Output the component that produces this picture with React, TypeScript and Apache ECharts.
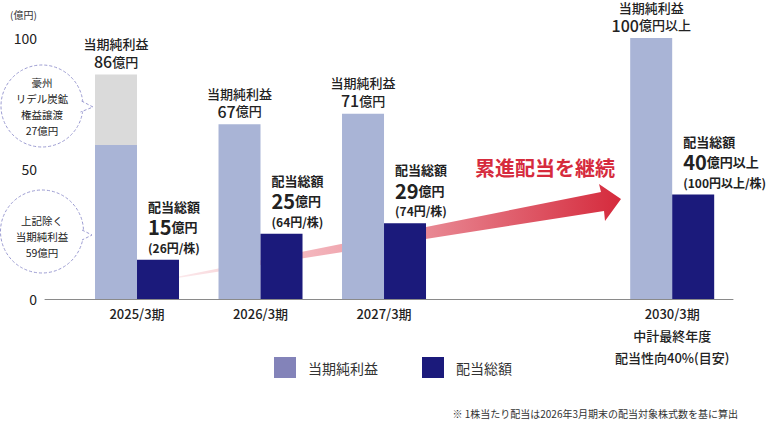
import React, { useEffect, useRef } from 'react';
import * as echarts from 'echarts';

// ---- data ----
const periods = ['2025/3期', '2026/3期', '2027/3期', '2030/3期\n中計最終年度\n配当性向40%(目安)'];
const periodPos = [0, 3, 6, 13]; // position of each period on the x scale (thirds of a year)
const netIncome = [59, 67, 71, 100]; // 当期純利益 (excluding divestiture gain)
const divestGain = [27, 0, 0, 0]; // 豪州リデル炭鉱権益譲渡
const netUnit = ['億円', '億円', '億円', '億円以上'];
const dividend = [15, 25, 29, 40]; // 配当総額
const divUnit = ['億円', '億円', '億円', '億円以上'];
const dps = ['26円', '64円', '74円', '100円以上'];
const yTicks = [0, 50, 100];

const FONT = '"Noto Sans CJK JP", "Noto Sans", sans-serif';
const NET_COLOR = '#a9b4d6';
const GAIN_COLOR = '#dadada';
const DIV_COLOR = '#1b1a7b';

export default function App() {
  const ref = useRef<HTMLDivElement>(null);
  useEffect(() => {
    const chart = echarts.init(ref.current!, null, { renderer: 'svg' });

    // data items are [value, position]; encode maps them to y and x
    const idxOf = (v: number) => periodPos.indexOf(v);
    const netLabelFmt = (p: any) => {
      const i = idxOf(p.value[1]);
      return `{t|当期純利益}\n{n|${netIncome[i] + divestGain[i]}}{u|${netUnit[i]}}`;
    };
    const divLabelFmt = (p: any) => {
      const i = idxOf(p.value[1]);
      return `{t|配当総額}\n{n|${dividend[i]}}{u|${divUnit[i]}}\n{p|(${dps[i]}/株)}`;
    };

    const netLabel = {
      position: 'top',
      distance: 4,
      formatter: netLabelFmt,
      rich: {
        t: { fontSize: 13, lineHeight: 16, color: '#222', fontFamily: FONT, fontWeight: 500 },
        n: { fontSize: 16, lineHeight: 19, color: '#222', fontFamily: FONT, fontWeight: 500 },
        u: { fontSize: 13, lineHeight: 19, color: '#222', fontFamily: FONT, fontWeight: 500 },
      },
    };

    const dashStroke = { stroke: '#9c9cd2', lineWidth: 1, lineDash: [3, 2] };
    const enc = { x: 1, y: 0 };

    const option: any = {
      animation: false,
      textStyle: { fontFamily: FONT },
      grid: { left: 45, right: 37, top: 38, bottom: 130, containLabel: false },
      xAxis: {
        type: 'value',
        min: -2.235,
        max: 14.477,
        splitLine: { show: false },
        axisTick: { show: false },
        axisLine: { show: true, onZero: false, lineStyle: { color: '#8a8a8a', width: 1 } },
        axisLabel: {
          customValues: periodPos,
          formatter: (v: number) => {
            const i = idxOf(v);
            return i >= 0 ? periods[i] : '';
          },
          margin: 3,
          fontSize: 13,
          lineHeight: 22,
          color: '#222',
          fontFamily: FONT,
          fontWeight: 500,
        },
      },
      yAxis: {
        type: 'value',
        min: 0,
        max: 100,
        interval: 50,
        splitLine: { show: false },
        axisLine: { show: false },
        axisTick: { show: false },
        axisLabel: {
          customValues: yTicks,
          margin: 8,
          fontSize: 14,
          color: '#222',
          fontFamily: FONT,
        },
      },
      legend: {
        left: 269,
        top: 352,
        itemWidth: 22,
        itemHeight: 21,
        itemGap: 44,
        icon: 'rect',
        textStyle: { fontSize: 14, color: '#333', fontFamily: FONT, padding: [0, 0, 0, 7] },
        data: [
          { name: '当期純利益', itemStyle: { color: '#8383b9' } },
          { name: '配当総額', itemStyle: { color: DIV_COLOR } },
        ],
      },
      series: [
        {
          name: '当期純利益',
          type: 'bar',
          stack: 'net',
          encode: enc,
          barWidth: 42,
          barGap: '0%',
          itemStyle: { color: NET_COLOR },
          z: 2,
          data: periodPos.map((x, i) => ({
            value: [netIncome[i], x],
            label: { show: divestGain[i] === 0 },
          })),
          label: { show: true, ...netLabel },
        },
        {
          name: '権益譲渡',
          type: 'bar',
          stack: 'net',
          encode: enc,
          barWidth: 42,
          barGap: '0%',
          itemStyle: { color: GAIN_COLOR },
          z: 2,
          data: periodPos.map((x, i) => ({
            value: [divestGain[i], x],
            label: { show: divestGain[i] > 0 },
          })),
          label: { show: true, ...netLabel },
        },
        {
          name: '配当総額',
          type: 'bar',
          encode: enc,
          barWidth: 42,
          barGap: '0%',
          itemStyle: { color: DIV_COLOR },
          z: 2,
          data: periodPos.map((x, i) => [dividend[i], x]),
          label: {
            show: true,
            position: 'top',
            distance: 3,
            align: 'left',
            offset: [-10, 0],
            formatter: divLabelFmt,
            rich: {
              t: { fontSize: 13, lineHeight: 19, color: '#222', fontFamily: FONT, fontWeight: 'bold', align: 'left' },
              n: { fontSize: 20, lineHeight: 22, color: '#222', fontFamily: FONT, fontWeight: 'bold', align: 'left' },
              u: { fontSize: 13, lineHeight: 22, color: '#222', fontFamily: FONT, fontWeight: 'bold', align: 'left' },
              p: { fontSize: 12, lineHeight: 19, color: '#222', fontFamily: FONT, fontWeight: 'bold', align: 'left' },
            },
          },
        },
      ],
      graphic: [
        {
          type: 'text',
          left: 10,
          top: 9,
          style: { text: '(億円)', fontSize: 10, fill: '#333', fontFamily: FONT },
        },
        // progressive dividend arrow
        {
          type: 'polygon',
          z: 0,
          shape: {
            points: [
              [176, 277],
              [601, 192],
              [599, 184],
              [621, 199],
              [605, 221],
              [604, 211],
              [176, 278.2],
            ],
          },
          style: {
            fill: new echarts.graphic.LinearGradient(0, 0, 1, 0, [
              { offset: 0, color: 'rgba(246,200,206,0.4)' },
              { offset: 0.28, color: '#f4b8bf' },
              { offset: 0.55, color: '#e98b96' },
              { offset: 1, color: '#d52a3c' },
            ]),
          },
        },
        {
          type: 'text',
          x: 545,
          y: 167,
          z: 10,
          style: {
            text: '累進配当を継続',
            fontSize: 20,
            fontWeight: 'bold',
            fill: '#d62b3d',
            fontFamily: FONT,
            align: 'center',
            verticalAlign: 'middle',
          },
        },
        // bubble 1
        {
          type: 'circle',
          shape: { cx: 42, cy: 106, r: 41 },
          style: { fill: '#fff', ...dashStroke },
        },
        {
          type: 'polygon',
          shape: { points: [[80, 100], [93, 107], [79, 113]] },
          style: { fill: '#fff' },
        },
        {
          type: 'polyline',
          shape: { points: [[81.5, 101], [93, 107], [80.5, 112]] },
          style: { fill: null, ...dashStroke },
        },
        {
          type: 'text',
          x: 42,
          y: 106.5,
          style: {
            text: '豪州\nリデル炭鉱\n権益譲渡\n27億円',
            fontSize: 10.5,
            lineHeight: 16.3,
            fill: '#222',
            fontFamily: FONT,
            align: 'center',
            verticalAlign: 'middle',
          },
        },
        // bubble 2
        {
          type: 'circle',
          shape: { cx: 42, cy: 231.5, r: 41.5 },
          style: { fill: '#fff', ...dashStroke },
        },
        {
          type: 'polygon',
          shape: { points: [[80, 229], [92, 235], [80, 241]] },
          style: { fill: '#fff' },
        },
        {
          type: 'polyline',
          shape: { points: [[82, 230], [92, 235], [82, 240]] },
          style: { fill: null, ...dashStroke },
        },
        {
          type: 'text',
          x: 42,
          y: 236,
          style: {
            text: '上記除く\n当期純利益\n59億円',
            fontSize: 10.5,
            lineHeight: 16,
            fill: '#222',
            fontFamily: FONT,
            align: 'center',
            verticalAlign: 'middle',
          },
        },
        // footnote
        {
          type: 'text',
          right: 32,
          top: 408,
          style: {
            text: '※ 1株当たり配当は2026年3月期末の配当対象株式数を基に算出',
            fontSize: 10,
            fill: '#333',
            fontFamily: FONT,
          },
        },
      ],
    };

    chart.setOption(option);
    return () => chart.dispose();
  }, []);

  return (
    <div
      ref={ref}
      style={{ position: 'fixed', left: 0, top: 0, width: 770, height: 429, background: '#fff' }}
    />
  );
}
